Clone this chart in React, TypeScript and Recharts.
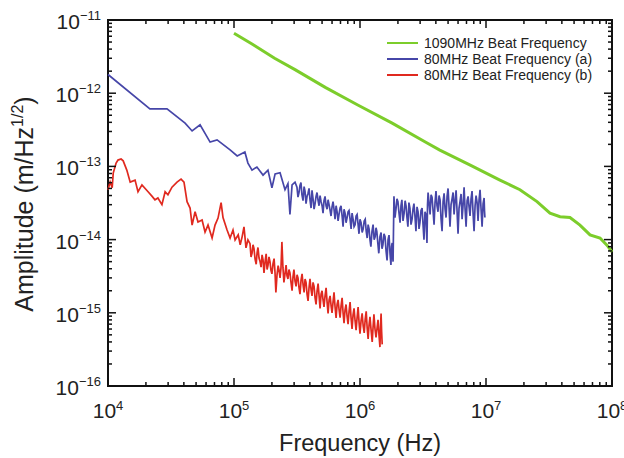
import { LineChart, Line, XAxis, YAxis, Legend, ReferenceArea } from "recharts";

const FONT = "'Liberation Sans', Arial, 'Noto Sans CJK JP', sans-serif";
const PLOT_TOP = 20;
const PLOT_RIGHT = 612;

const GREEN = "#7ccd2b";
const BLUE = "#4646a8";
const RED = "#e0291f";

// axis decades + minor steps
const freqDecades = [1e4, 1e5, 1e6, 1e7, 1e8];
const ampDecades = [1e-16, 1e-15, 1e-14, 1e-13, 1e-12, 1e-11];
const minorSteps = [2, 3, 4, 5, 6, 7, 8, 9];

const seriesNames = [
  "1090MHz Beat Frequency",
  "80MHz Beat Frequency (a)",
  "80MHz Beat Frequency (b)",
];

// 1090MHz beat
const greenFreq = [
  1.0e5, 1.39e5, 2.1e5, 3.05e5, 5.3e5, 9.6e5, 1.8e6, 3.3e6, 4.3e6, 7.5e6,
  1.29e7, 1.86e7, 2.54e7, 3.22e7, 3.87e7, 4.64e7, 5.57e7, 6.69e7, 8.03e7, 9.12e7, 1.0e8,
];
const greenAmp = [
  6.6e-12, 4.7e-12, 3.0e-12, 2.1e-12, 1.2e-12, 6.9e-13, 3.9e-13, 2.15e-13, 1.67e-13, 1.04e-13,
  6.5e-14, 4.8e-14, 3.3e-14, 2.3e-14, 2.05e-14, 2.0e-14, 1.58e-14, 1.16e-14, 1.05e-14, 8.4e-15, 6.8e-15,
];

// 80MHz beat (a): low-frequency part
const blueHeadFreq = [
  1.0e4, 2.15e4, 2.94e4, 4.09e4, 4.65e4, 5.38e4, 6.46e4, 7.34e4, 9.31e4, 1.06e5,
  1.22e5, 1.29e5, 1.39e5, 1.52e5, 1.7e5, 1.86e5, 2.0e5, 2.12e5, 2.32e5, 2.54e5,
  2.68e5, 2.78e5, 2.89e5, 3.05e5,
];
const blueHeadAmp = [
  1.8e-12, 6.1e-13, 6.1e-13, 3.9e-13, 3.05e-13, 3.7e-13, 2.15e-13, 2.3e-13, 1.68e-13, 1.39e-13,
  1.57e-13, 1.11e-13, 8.9e-14, 9.8e-14, 7.6e-14, 8.9e-14, 5.1e-14, 7.9e-14, 8.2e-14, 4.8e-14,
  5.8e-14, 2.2e-14, 5.6e-14, 6.1e-14,
];
// 80MHz beat (a): noisy band up to the step
const blueBandFreq = [
  3.16e5, 3.22e5, 3.28e5, 3.34e5, 3.4e5, 3.46e5, 3.53e5, 3.6e5, 3.66e5, 3.73e5,
  3.8e5, 3.87e5, 3.94e5, 4.01e5, 4.09e5, 4.16e5, 4.24e5, 4.32e5, 4.4e5, 4.48e5,
  4.56e5, 4.65e5, 4.73e5, 4.82e5, 4.91e5, 5.0e5, 5.09e5, 5.18e5, 5.28e5, 5.38e5,
  5.48e5, 5.58e5, 5.68e5, 5.79e5, 5.89e5, 6.0e5, 6.11e5, 6.22e5, 6.34e5, 6.46e5,
  6.58e5, 6.7e5, 6.81e5, 6.95e5, 7.07e5, 7.21e5, 7.34e5, 7.47e5, 7.61e5, 7.75e5,
  7.9e5, 8.04e5, 8.18e5, 8.34e5, 8.5e5, 8.65e5, 8.81e5, 8.97e5, 9.14e5, 9.31e5,
  9.48e5, 9.66e5, 9.82e5, 1.0e6, 1.02e6, 1.04e6, 1.06e6, 1.08e6, 1.1e6, 1.12e6,
  1.14e6, 1.16e6, 1.18e6, 1.2e6, 1.22e6, 1.245e6, 1.27e6, 1.295e6, 1.32e6, 1.34e6,
  1.36e6, 1.385e6, 1.41e6, 1.44e6, 1.47e6, 1.495e6, 1.52e6, 1.55e6, 1.58e6, 1.61e6,
  1.64e6, 1.67e6, 1.7e6, 1.73e6, 1.76e6, 1.78e6, 1.8e6, 1.815e6, 1.83e6,
];
const blueBandAmp = [
  5.2e-14, 3.8e-14, 4.4e-14, 5.5e-14, 6.0e-14, 4.1e-14, 3.4e-14, 5.3e-14, 4.6e-14, 3.1e-14,
  3.9e-14, 4.3e-14, 5.0e-14, 3.5e-14, 2.7e-14, 4.7e-14, 3.6e-14, 2.6e-14, 3.1e-14, 3.9e-14,
  4.4e-14, 3.4e-14, 2.9e-14, 4.0e-14, 3.3e-14, 2.9e-14, 2.3e-14, 3.4e-14, 3.9e-14, 2.9e-14,
  2.6e-14, 3.5e-14, 3.0e-14, 2.5e-14, 2.1e-14, 2.8e-14, 3.3e-14, 2.6e-14, 1.9e-14, 2.9e-14,
  2.4e-14, 1.8e-14, 2.2e-14, 2.7e-14, 2.9e-14, 2.1e-14, 1.5e-14, 2.6e-14, 2.3e-14, 1.7e-14,
  2.0e-14, 2.4e-14, 2.5e-14, 1.9e-14, 1.4e-14, 2.3e-14, 1.9e-14, 1.5e-14, 1.6e-14, 2.1e-14,
  2.2e-14, 1.6e-14, 1.2e-14, 1.9e-14, 1.7e-14, 1.25e-14, 1.4e-14, 1.8e-14, 1.9e-14, 1.3e-14,
  1.05e-14, 1.6e-14, 1.4e-14, 1.0e-14, 8.0e-15, 1.3e-14, 1.6e-14, 1.0e-14, 1.1e-14, 1.45e-14,
  1.3e-14, 9.0e-15, 6.5e-15, 1.1e-14, 1.25e-14, 7.5e-15, 8.5e-15, 1.2e-14, 1.1e-14, 7.0e-15,
  5.2e-15, 1.0e-14, 1.15e-14, 6.5e-15, 4.5e-15, 8.0e-15, 9.0e-15, 6.0e-15, 5.0e-15,
];
// 80MHz beat (a): after the step at ~1.85 MHz
const blueStepFreq = [
  1.86e6, 1.895e6, 1.93e6, 1.965e6, 2.0e6, 2.04e6, 2.08e6, 2.115e6, 2.15e6, 2.195e6,
  2.24e6, 2.28e6, 2.32e6, 2.36e6, 2.4e6, 2.445e6, 2.49e6, 2.54e6, 2.59e6, 2.635e6,
  2.68e6, 2.73e6, 2.78e6, 2.835e6, 2.89e6, 2.94e6, 2.99e6, 3.05e6, 3.11e6, 3.165e6,
  3.22e6, 3.28e6, 3.34e6, 3.37e6, 3.4e6, 3.435e6, 3.47e6, 3.535e6, 3.6e6, 3.665e6,
  3.73e6, 3.8e6, 3.87e6, 3.94e6, 4.01e6, 4.085e6, 4.16e6, 4.24e6, 4.32e6, 4.4e6,
  4.48e6, 4.565e6, 4.65e6, 4.735e6, 4.82e6, 4.91e6, 5.0e6, 5.09e6, 5.18e6, 5.28e6,
  5.38e6, 5.48e6, 5.58e6, 5.685e6, 5.79e6, 5.895e6, 6.0e6, 6.11e6, 6.22e6, 6.34e6,
  6.46e6, 6.58e6, 6.7e6, 6.825e6, 6.95e6, 7.08e6, 7.21e6, 7.34e6, 7.47e6, 7.61e6,
  7.75e6, 7.895e6, 8.04e6, 8.19e6, 8.34e6, 8.495e6, 8.65e6, 8.81e6, 8.97e6, 9.14e6,
  9.31e6, 9.485e6, 9.66e6, 9.73e6, 9.8e6,
];
const blueStepAmp = [
  3.9e-14, 2.0e-14, 2.6e-14, 3.6e-14, 3.3e-14, 2.3e-14, 1.7e-14, 2.9e-14, 3.5e-14, 1.8e-14,
  2.3e-14, 3.4e-14, 2.9e-14, 2.0e-14, 1.5e-14, 3.2e-14, 2.7e-14, 1.6e-14, 1.9e-14, 2.6e-14,
  3.1e-14, 2.1e-14, 1.3e-14, 2.8e-14, 2.4e-14, 1.4e-14, 1.7e-14, 2.5e-14, 2.7e-14, 1.6e-14,
  1.0e-14, 2.4e-14, 2.2e-14, 1.3e-14, 9.0e-15, 3.0e-14, 4.4e-14, 3.1e-14, 2.2e-14, 4.1e-14,
  3.8e-14, 2.5e-14, 1.6e-14, 3.2e-14, 4.6e-14, 2.9e-14, 2.4e-14, 4.0e-14, 3.5e-14, 1.9e-14,
  1.3e-14, 3.3e-14, 4.3e-14, 2.6e-14, 2.0e-14, 3.9e-14, 5.0e-14, 2.8e-14, 1.5e-14, 3.0e-14,
  3.6e-14, 4.4e-14, 2.2e-14, 3.4e-14, 4.7e-14, 2.4e-14, 1.2e-14, 2.7e-14, 3.3e-14, 4.2e-14,
  1.9e-14, 3.0e-14, 5.2e-14, 2.6e-14, 1.5e-14, 3.4e-14, 3.9e-14, 2.8e-14, 2.1e-14, 3.6e-14,
  4.6e-14, 2.3e-14, 1.3e-14, 2.9e-14, 4.0e-14, 3.2e-14, 1.8e-14, 3.5e-14, 4.8e-14, 2.6e-14,
  1.5e-14, 3.1e-14, 3.7e-14, 2.5e-14, 2.0e-14,
];

// 80MHz beat (b): low-frequency part
const redHeadFreq = [
  1.0e4, 1.04e4, 1.08e4, 1.1e4, 1.16e4, 1.2e4, 1.27e4, 1.32e4, 1.41e4, 1.5e4,
  1.64e4, 1.73e4, 1.86e4, 2.08e4, 2.24e4, 2.36e4, 2.49e4, 2.68e4, 2.84e4, 2.99e4,
  3.22e4, 3.53e4, 3.8e4, 4.01e4, 4.24e4, 4.48e4, 4.65e4, 4.91e4, 5.18e4, 5.58e4,
  5.89e4, 6.22e4, 6.7e4, 7.07e4, 7.47e4, 7.9e4, 8.18e4, 8.81e4, 9.31e4, 9.82e4,
  1.02e5, 1.08e5, 1.12e5, 1.16e5, 1.2e5, 1.245e5, 1.29e5,
];
const redHeadAmp = [
  4.8e-14, 6.1e-14, 5.1e-14, 8.1e-14, 1.11e-13, 1.22e-13, 1.26e-13, 1.19e-13, 8.9e-14, 6.1e-14,
  6.5e-14, 4.5e-14, 5.6e-14, 4.5e-14, 3.9e-14, 3.5e-14, 3.7e-14, 3.0e-14, 4.5e-14, 4.1e-14,
  5.2e-14, 6.1e-14, 6.7e-14, 6.1e-14, 3.3e-14, 2.7e-14, 1.58e-14, 2.4e-14, 1.74e-14, 1.85e-14,
  1.27e-14, 1.58e-14, 1.05e-14, 1.58e-14, 1.97e-14, 3.2e-14, 2.0e-14, 1.35e-14, 1.05e-14, 1.35e-14,
  9.9e-15, 1.16e-14, 8.5e-15, 1.09e-14, 1.49e-14, 7.7e-15, 9.9e-15,
];
// 80MHz beat (b): noisy band
const redBandFreq = [
  1.34e5, 1.365e5, 1.39e5, 1.415e5, 1.44e5, 1.47e5, 1.5e5, 1.525e5, 1.55e5, 1.58e5,
  1.61e5, 1.64e5, 1.67e5, 1.7e5, 1.73e5, 1.765e5, 1.8e5, 1.83e5, 1.86e5, 1.895e5,
  1.93e5, 1.965e5, 2.0e5, 2.04e5, 2.08e5, 2.115e5, 2.15e5, 2.195e5, 2.24e5, 2.28e5,
  2.32e5, 2.36e5, 2.4e5, 2.445e5, 2.49e5, 2.54e5, 2.59e5, 2.635e5, 2.68e5, 2.73e5,
  2.78e5, 2.835e5, 2.89e5, 2.94e5, 2.99e5, 3.05e5, 3.11e5, 3.165e5, 3.22e5, 3.28e5,
  3.34e5, 3.405e5, 3.47e5, 3.535e5, 3.6e5, 3.665e5, 3.73e5, 3.8e5, 3.87e5, 3.94e5,
  4.01e5, 4.085e5, 4.16e5, 4.24e5, 4.32e5, 4.4e5, 4.48e5, 4.565e5, 4.65e5, 4.735e5,
  4.82e5, 4.91e5, 5.0e5, 5.09e5, 5.18e5, 5.28e5, 5.38e5, 5.48e5, 5.58e5, 5.685e5,
  5.79e5, 5.895e5, 6.0e5, 6.11e5, 6.22e5, 6.34e5, 6.46e5, 6.58e5, 6.7e5, 6.825e5,
  6.95e5, 7.08e5, 7.21e5, 7.34e5, 7.47e5, 7.61e5, 7.75e5, 7.895e5, 8.04e5, 8.19e5,
  8.34e5, 8.495e5, 8.65e5, 8.81e5, 8.97e5, 9.14e5, 9.31e5, 9.485e5, 9.66e5, 9.83e5,
  1.0e6, 1.02e6, 1.04e6, 1.06e6, 1.08e6, 1.1e6, 1.12e6, 1.14e6, 1.16e6, 1.18e6,
  1.2e6, 1.225e6, 1.25e6, 1.27e6, 1.29e6, 1.315e6, 1.34e6, 1.365e6, 1.39e6, 1.415e6,
  1.44e6, 1.455e6, 1.47e6, 1.485e6, 1.5e6,
];
const redBandAmp = [
  8.8e-15, 5.8e-15, 6.5e-15, 8.5e-15, 7.6e-15, 5.4e-15, 4.6e-15, 6.6e-15, 7.8e-15, 5.6e-15,
  5.0e-15, 4.2e-15, 6.2e-15, 5.3e-15, 3.5e-15, 5.0e-15, 6.4e-15, 3.9e-15, 4.4e-15, 5.8e-15,
  5.0e-15, 3.8e-15, 3.4e-15, 4.7e-15, 5.5e-15, 3.6e-15, 1.9e-15, 3.3e-15, 4.4e-15, 3.8e-15,
  3.0e-15, 4.1e-15, 9.3e-15, 4.2e-15, 2.6e-15, 3.4e-15, 4.5e-15, 3.2e-15, 2.9e-15, 3.9e-15,
  3.5e-15, 2.6e-15, 2.0e-15, 3.1e-15, 3.9e-15, 2.7e-15, 2.3e-15, 3.3e-15, 3.0e-15, 2.2e-15,
  1.8e-15, 2.8e-15, 3.4e-15, 2.4e-15, 1.9e-15, 2.9e-15, 2.6e-15, 1.8e-15, 1.45e-15, 2.2e-15,
  2.9e-15, 2.1e-15, 1.7e-15, 2.6e-15, 2.3e-15, 1.6e-15, 1.3e-15, 2.0e-15, 2.5e-15, 1.7e-15,
  1.15e-15, 1.8e-15, 2.0e-15, 1.5e-15, 1.2e-15, 1.7e-15, 2.2e-15, 1.4e-15, 9.8e-16, 1.5e-15,
  1.7e-15, 1.25e-15, 1.0e-15, 1.4e-15, 1.9e-15, 1.2e-15, 8.5e-16, 1.3e-15, 1.5e-15, 1.1e-15,
  8.6e-16, 1.25e-15, 1.6e-15, 1.0e-15, 7.2e-16, 1.1e-15, 1.3e-15, 9.0e-16, 7.0e-16, 1.05e-15,
  1.4e-15, 8.5e-16, 6.0e-16, 9.4e-16, 1.15e-15, 7.8e-16, 5.8e-16, 8.6e-16, 1.2e-15, 7.4e-16,
  5.2e-16, 7.8e-16, 9.8e-16, 6.6e-16, 5.3e-16, 8.2e-16, 1.05e-15, 6.2e-16, 4.4e-16, 6.8e-16,
  8.8e-16, 5.8e-16, 4.0e-16, 6.4e-16, 9.5e-16, 6.0e-16, 4.6e-16, 6.1e-16, 8.0e-16, 5.0e-16,
  3.4e-16, 6.5e-16, 9.8e-16, 5.5e-16, 3.7e-16,
];

const toRows = (freq: number[], amp: number[]) => freq.map((f, i) => ({ f, a: amp[i] }));
const greenRows = toRows(greenFreq, greenAmp);
const blueRows = toRows(
  [...blueHeadFreq, ...blueBandFreq, ...blueStepFreq],
  [...blueHeadAmp, ...blueBandAmp, ...blueStepAmp]
);
const redRows = toRows([...redHeadFreq, ...redBandFreq], [...redHeadAmp, ...redBandAmp]);

const withMinors = (decades: number[]) => {
  const out: number[] = [];
  decades.forEach((d, i) => {
    out.push(d);
    if (i < decades.length - 1) minorSteps.forEach((m) => out.push(m * d));
  });
  return out;
};
const freqTicks = withMinors(freqDecades);
const ampTicks = withMinors(ampDecades);

const isDecade = (v: number) => {
  const e = Math.log10(v);
  return Math.abs(e - Math.round(e)) < 1e-6;
};

function FreqTick(props: any) {
  const { x, y, payload } = props;
  const v = payload.value as number;
  const major = isDecade(v);
  const len = major ? 8 : 4;
  const exp = Math.round(Math.log10(v));
  return (
    <g>
      <line x1={x} y1={y} x2={x} y2={y - len} stroke="#111" strokeWidth={1.5} />
      <line x1={x} y1={PLOT_TOP} x2={x} y2={PLOT_TOP + len} stroke="#111" strokeWidth={1.5} />
      {major && (
        <text x={x} y={y + 32} textAnchor="middle" fontFamily={FONT} fontSize={21} fill="#222">
          10
          <tspan dy={-8} fontSize={13}>
            {exp}
          </tspan>
        </text>
      )}
    </g>
  );
}

function AmpTick(props: any) {
  const { x, y, payload } = props;
  const v = payload.value as number;
  const major = isDecade(v);
  const len = major ? 8 : 4;
  const exp = Math.round(Math.log10(v));
  return (
    <g>
      <line x1={x} y1={y} x2={x + len} y2={y} stroke="#111" strokeWidth={1.5} />
      <line x1={PLOT_RIGHT} y1={y} x2={PLOT_RIGHT - len} y2={y} stroke="#111" strokeWidth={1.5} />
      {major && (
        <text x={x - 7} y={y + 9} textAnchor="end" fontFamily={FONT} fontSize={21} fill="#222">
          10
          <tspan dy={-9} fontSize={13}>
            {"\u2212" + Math.abs(exp)}
          </tspan>
        </text>
      )}
    </g>
  );
}

function FreqTitle(props: any) {
  const vb = props.viewBox;
  return (
    <text x={vb.x + vb.width / 2} y={vb.y + 65} textAnchor="middle" fontFamily={FONT} fontSize={23.5} fill="#222">
      Frequency (Hz)
    </text>
  );
}

function AmpTitle(props: any) {
  const vb = props.viewBox;
  const cx = 33;
  const cy = vb.y + vb.height / 2 + 1;
  return (
    <text
      x={cx}
      y={cy}
      transform={`rotate(-90 ${cx} ${cy})`}
      textAnchor="middle"
      fontFamily={FONT}
      fontSize={25}
      fill="#222"
    >
      Amplitude (m/Hz
      <tspan dy={-10} fontSize={16}>
        1/2
      </tspan>
      <tspan dy={10}>)</tspan>
    </text>
  );
}

const legendColors = [GREEN, BLUE, RED];

function LegendBox() {
  return (
    <div style={{ fontFamily: FONT, fontSize: 14, color: "#222" }}>
      {seriesNames.map((name, i) => (
        <div key={name} style={{ display: "flex", alignItems: "center", height: 16 }}>
          <div style={{ width: 31, height: 2, background: legendColors[i], marginRight: 6 }} />
          <span style={{ whiteSpace: "nowrap" }}>{name}</span>
        </div>
      ))}
    </div>
  );
}

export default function App() {
  return (
    <div style={{ position: "absolute", left: 0, top: 0, background: "#fff" }}>
      <LineChart width={624} height={458} margin={{ top: PLOT_TOP, right: 12, bottom: 0, left: 0 }}>
        <XAxis
          dataKey="f"
          type="number"
          scale="log"
          domain={[1e4, 1e8]}
          ticks={freqTicks}
          interval={0}
          tick={FreqTick}
          tickLine={false}
          axisLine={false}
          tickSize={0}
          tickMargin={0}
          height={72}
          label={<FreqTitle />}
        />
        <YAxis
          type="number"
          scale="log"
          domain={[1e-16, 1e-11]}
          ticks={ampTicks}
          interval={0}
          tick={AmpTick}
          tickLine={false}
          axisLine={false}
          tickSize={0}
          tickMargin={0}
          width={108}
          label={<AmpTitle />}
        />
        <ReferenceArea x1={1e4} x2={1e8} y1={1e-16} y2={1e-11} fill="none" stroke="#111" strokeWidth={2} />
        <Line data={greenRows} dataKey="a" name={seriesNames[0]} type="linear" stroke={GREEN} strokeWidth={3} dot={false} isAnimationActive={false} />
        <Line data={blueRows} dataKey="a" name={seriesNames[1]} type="linear" stroke={BLUE} strokeWidth={1.7} dot={false} isAnimationActive={false} />
        <Line data={redRows} dataKey="a" name={seriesNames[2]} type="linear" stroke={RED} strokeWidth={1.7} dot={false} isAnimationActive={false} />
        <Legend
          layout="vertical"
          align="center"
          verticalAlign="middle"
          content={<LegendBox />}
          wrapperStyle={{ left: 387, top: 35, width: 230, height: 48 }}
        />
      </LineChart>
    </div>
  );
}
